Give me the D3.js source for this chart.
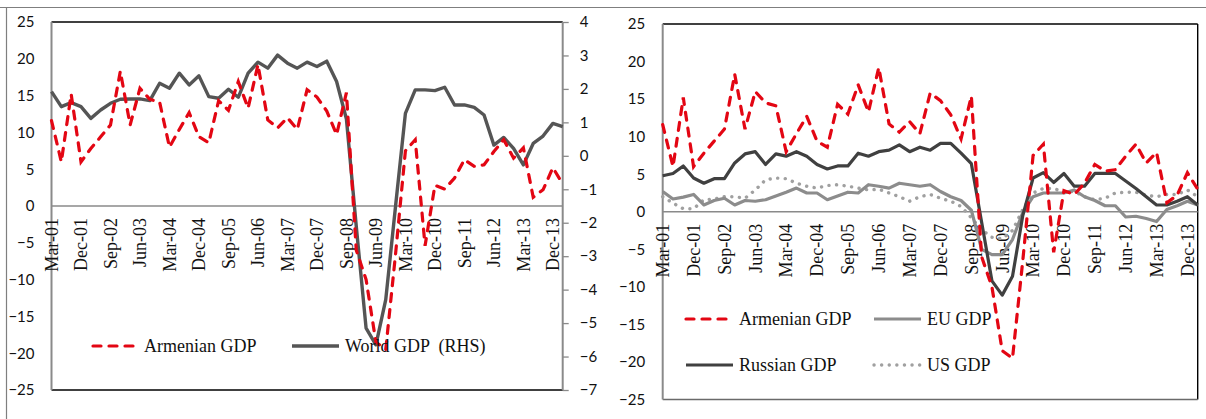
<!DOCTYPE html>
<html>
<head>
<meta charset="utf-8">
<script src="https://cdn.jsdelivr.net/npm/d3@7"></script>
<style>
  body { margin: 0; background: #fff; }
  .ylab text { font-family: Lato, "Noto Sans", sans-serif; font-size: 15px; fill: #111; }
  .xlab, .leg { font-family: "Liberation Serif", "Times New Roman", serif; font-size: 18px; fill: #111; }
  .leg { white-space: pre; }
</style>
</head>
<body>
<div id="chart"></div>
<script>
// quarterly data, Mar-01 .. Mar-14
var quarters = ["Mar-01","Jun-01","Sep-01","Dec-01","Mar-02","Jun-02","Sep-02","Dec-02",
  "Mar-03","Jun-03","Sep-03","Dec-03","Mar-04","Jun-04","Sep-04","Dec-04",
  "Mar-05","Jun-05","Sep-05","Dec-05","Mar-06","Jun-06","Sep-06","Dec-06",
  "Mar-07","Jun-07","Sep-07","Dec-07","Mar-08","Jun-08","Sep-08","Dec-08",
  "Mar-09","Jun-09","Sep-09","Dec-09","Mar-10","Jun-10","Sep-10","Dec-10",
  "Mar-11","Jun-11","Sep-11","Dec-11","Mar-12","Jun-12","Sep-12","Dec-12",
  "Mar-13","Jun-13","Sep-13","Dec-13","Mar-14"];

var tickLabels = ["Mar-01","Dec-01","Sep-02","Jun-03","Mar-04","Dec-04","Sep-05","Jun-06",
  "Mar-07","Dec-07","Sep-08","Jun-09","Mar-10","Dec-10","Sep-11","Jun-12","Mar-13","Dec-13"];

var leftTicks = [25,20,15,10,5,0,-5,-10,-15,-20,-25];
var rhsTicks = [4,3,2,1,0,-1,-2,-3,-4,-5,-6,-7];

var armenian = [11.6,6.0,15.2,6.0,7.8,9.4,11.0,18.3,11.0,16.0,14.5,14.1,8.0,10.4,12.7,9.4,
  8.6,14.3,13.0,16.9,13.3,19.2,11.7,10.6,12.0,10.4,15.8,14.8,12.9,9.7,15.4,-6.0,
  -10.0,-18.5,-19.5,-6.5,7.5,9.0,-5.4,2.8,2.3,3.8,6.3,5.4,5.6,7.4,9.0,6.5,
  7.9,1.2,2.2,5.2,3.0];

var world = [1.92,1.47,1.59,1.47,1.12,1.37,1.57,1.69,1.70,1.70,1.65,2.17,2.02,2.47,2.12,2.39,
  1.77,1.72,1.99,1.75,2.47,2.80,2.62,3.01,2.77,2.62,2.80,2.67,2.83,2.22,1.10,-2.1,
  -5.15,-5.65,-4.3,-1.5,1.27,1.97,1.97,1.95,2.05,1.52,1.52,1.45,1.22,0.32,0.55,0.22,
  -0.27,0.37,0.59,0.97,0.87];

var russian = [4.8,5.1,6.1,4.5,3.8,4.4,4.4,6.5,7.7,8.0,6.3,7.7,7.4,8.0,7.4,6.3,
  5.7,6.1,6.1,7.8,7.4,8.0,8.2,8.9,8.0,8.6,8.2,9.1,9.1,7.8,6.4,-1.4,
  -9.2,-11.1,-8.6,-0.5,4.5,5.2,3.9,5.1,3.4,3.4,5.1,5.1,5.1,4.1,3.1,2.0,
  0.9,0.9,1.4,2.0,0.9];

var eu = [2.7,1.7,1.95,2.3,0.9,1.5,1.8,0.9,1.5,1.4,1.6,2.1,2.6,3.15,2.5,2.5,
  1.6,2.1,2.6,2.5,3.6,3.4,3.15,3.8,3.6,3.4,3.6,2.7,2.0,1.5,0.2,-5.0,
  -5.7,-5.7,-3.7,-0.1,2.0,2.5,2.5,2.5,2.9,2.0,1.5,0.8,0.8,-0.7,-0.6,-0.9,
  -1.3,0.3,0.8,1.4,0.9];

var us = [2.0,1.15,0.4,0.4,1.6,1.7,2.0,2.0,1.8,2.9,4.25,4.5,4.4,3.8,3.4,3.15,
  3.5,3.6,3.4,3.15,2.9,3.0,2.5,2.0,1.4,2.0,2.3,1.8,1.4,0.7,-0.8,-2.4,
  -3.4,-3.6,-2.5,0.3,2.5,3.1,3.1,2.6,2.7,2.0,1.6,1.8,2.5,2.6,2.6,2.2,
  2.0,2.3,2.3,2.9,2.0];

var W = 1206, H = 419;
var red = "#e30613";

var svg = d3.select("#chart").append("svg")
  .attr("width", W).attr("height", H)
  .style("display", "block");

svg.append("rect").attr("width", W).attr("height", H).attr("fill", "#fff");

// outer frame (top + left)
svg.append("line").attr("x1", 0).attr("x2", W).attr("y1", 7.5).attr("y2", 7.5)
  .attr("stroke", "#7f7f7f").attr("stroke-width", 1.2);
svg.append("line").attr("x1", 6.5).attr("x2", 6.5).attr("y1", 7).attr("y2", H)
  .attr("stroke", "#7f7f7f").attr("stroke-width", 1.2);

function seriesLine(x, y) {
  return d3.line()
    .x(function(d, i) { return x(quarters[i]); })
    .y(function(d) { return y(d); });
}

function xLabels(g, x, y0) {
  g.selectAll("text.xlab").data(tickLabels).enter().append("text")
    .attr("class", "xlab")
    .attr("transform", function(d) { return "translate(" + x(d) + "," + (y0 + 12) + ") rotate(-90)"; })
    .attr("text-anchor", "end")
    .attr("dy", "0.35em")
    .text(function(d) { return d; });
}

function legendItem(g, x1, x2, y, style, label) {
  var l = g.append("line").attr("x1", x1).attr("x2", x2).attr("y1", y).attr("y2", y);
  style(l);
  g.append("text").attr("class", "leg").attr("x", x2 + 6).attr("y", y).attr("dy", "0.35em").text(label);
}

var redStyle = function(s) {
  s.attr("fill", "none").attr("stroke", red).attr("stroke-width", 3.2)
   .attr("stroke-dasharray", "8,8").attr("stroke-linecap", "round");
};
var worldStyle = function(s) {
  s.attr("fill", "none").attr("stroke", "#555555").attr("stroke-width", 3.4).attr("stroke-linejoin", "round");
};
var rusStyle = function(s) {
  s.attr("fill", "none").attr("stroke", "#404040").attr("stroke-width", 3.2).attr("stroke-linejoin", "round");
};
var euStyle = function(s) {
  s.attr("fill", "none").attr("stroke", "#8c8c8c").attr("stroke-width", 3.2).attr("stroke-linejoin", "round");
};
var usStyle = function(s) {
  s.attr("fill", "none").attr("stroke", "#a0a0a0").attr("stroke-width", 3.4)
   .attr("stroke-dasharray", "0.1,7.5").attr("stroke-linecap", "round");
};

// ---------- left chart ----------
var L = {left: 51.5, right: 562.7, top: 22, bottom: 390};
var x1 = d3.scalePoint().domain(quarters).range([L.left, L.right]);
var y1 = d3.scaleLinear().domain([-25, 25]).range([L.bottom, L.top]);
var yR = d3.scaleLinear().domain([-7, 4]).range([L.bottom, L.top]);

var g1 = svg.append("g");

g1.append("g").attr("class", "ylab")
  .attr("transform", "translate(" + L.left + ",0)")
  .call(d3.axisLeft(y1).tickValues(leftTicks).tickSize(0).tickPadding(17).tickFormat(d3.format("d")))
  .call(function(g) { g.select(".domain").remove(); });

g1.append("g").attr("class", "ylab")
  .attr("transform", "translate(" + L.right + ",0)")
  .call(d3.axisRight(yR).tickValues(rhsTicks).tickSize(6).tickPadding(11).tickFormat(d3.format("d")))
  .call(function(g) {
    g.select(".domain").remove();
    g.selectAll(".tick line").attr("stroke", "#8a8a8a").attr("stroke-width", 1.3);
  });

// borders
g1.append("line").attr("x1", L.left).attr("x2", L.right).attr("y1", L.top).attr("y2", L.top)
  .attr("stroke", "#000").attr("stroke-width", 1.4);
g1.append("line").attr("x1", L.left).attr("x2", L.right).attr("y1", L.bottom).attr("y2", L.bottom)
  .attr("stroke", "#000").attr("stroke-width", 1.4);
g1.append("line").attr("x1", L.left).attr("x2", L.left).attr("y1", L.top).attr("y2", L.bottom)
  .attr("stroke", "#8a8a8a").attr("stroke-width", 2);
g1.append("line").attr("x1", L.right).attr("x2", L.right).attr("y1", L.top).attr("y2", L.bottom)
  .attr("stroke", "#8a8a8a").attr("stroke-width", 2);
g1.append("line").attr("x1", L.left).attr("x2", L.right).attr("y1", y1(0)).attr("y2", y1(0))
  .attr("stroke", "#8a8a8a").attr("stroke-width", 1.6);

xLabels(g1, x1, y1(0));

g1.append("path").datum(world).attr("d", seriesLine(x1, yR)).call(worldStyle);
g1.append("path").datum(armenian).attr("d", seriesLine(x1, y1)).call(redStyle);

legendItem(g1, 93, 138, 346, redStyle, "Armenian GDP");
legendItem(g1, 292, 339, 346, worldStyle, "World GDP  (RHS)");

// ---------- right chart ----------
var R = {left: 662.7, right: 1197.7, top: 24, bottom: 399.5};
var x2 = d3.scalePoint().domain(quarters).range([R.left, R.right]);
var y2 = d3.scaleLinear().domain([-25, 25]).range([R.bottom, R.top]);

var g2 = svg.append("g");

g2.append("g").attr("class", "ylab")
  .attr("transform", "translate(" + R.left + ",0)")
  .call(d3.axisLeft(y2).tickValues(leftTicks).tickSize(0).tickPadding(17.5).tickFormat(d3.format("d")))
  .call(function(g) { g.select(".domain").remove(); });

g2.append("line").attr("x1", R.left).attr("x2", R.right).attr("y1", R.top).attr("y2", R.top)
  .attr("stroke", "#000").attr("stroke-width", 1.4);
g2.append("line").attr("x1", R.right).attr("x2", R.right).attr("y1", R.top).attr("y2", R.bottom)
  .attr("stroke", "#000").attr("stroke-width", 1.4);
g2.append("line").attr("x1", R.left).attr("x2", R.right).attr("y1", R.bottom).attr("y2", R.bottom)
  .attr("stroke", "#6a6a6a").attr("stroke-width", 1.6);
g2.append("line").attr("x1", R.left).attr("x2", R.left).attr("y1", R.top).attr("y2", R.bottom)
  .attr("stroke", "#8a8a8a").attr("stroke-width", 2);
g2.append("line").attr("x1", R.left).attr("x2", R.right).attr("y1", y2(0)).attr("y2", y2(0))
  .attr("stroke", "#8a8a8a").attr("stroke-width", 1.6);

xLabels(g2, x2, y2(0));

g2.append("path").datum(us).attr("d", seriesLine(x2, y2)).call(usStyle);
g2.append("path").datum(eu).attr("d", seriesLine(x2, y2)).call(euStyle);
g2.append("path").datum(russian).attr("d", seriesLine(x2, y2)).call(rusStyle);
g2.append("path").datum(armenian).attr("d", seriesLine(x2, y2)).call(redStyle);

legendItem(g2, 686, 733, 319, redStyle, "Armenian GDP");
legendItem(g2, 874, 921, 319, euStyle, "EU GDP");
legendItem(g2, 686, 733, 365, rusStyle, "Russian GDP");
legendItem(g2, 874, 921, 365, usStyle, "US GDP");
</script>
</body>
</html>
